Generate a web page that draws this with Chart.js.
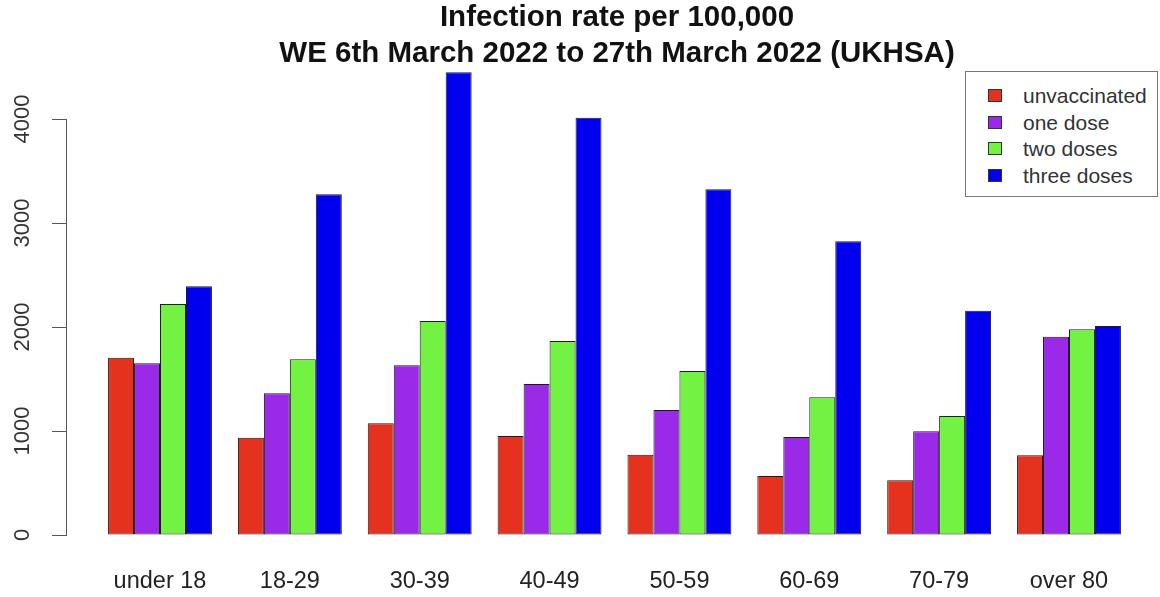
<!DOCTYPE html>
<html>
<head>
<meta charset="utf-8">
<script src="https://cdn.jsdelivr.net/npm/chart.js@4.4.1/dist/chart.umd.min.js"></script>
<style>
  html, body { margin: 0; padding: 0; background: #ffffff; }
  #wrap { position: relative; width: 1160px; height: 597px; overflow: hidden; background: #ffffff; }
  #c { position: absolute; left: 0; top: 0; }
  #legend {
    position: absolute; left: 965px; top: 71px; width: 193px; height: 126px;
    border: 1px solid #777; background: #fff; box-sizing: border-box;
    font-family: "Liberation Sans", Arial, sans-serif; font-size: 21px; color: #333;
  }
  .item { position: absolute; left: 0; height: 26px; line-height: 26px; white-space: nowrap; }
  .sw { position: absolute; left: 22px; top: 6px; width: 14px; height: 13px; border: 1px solid #333; box-sizing: border-box; }
  .lab { position: absolute; left: 57px; top: 0; }
</style>
</head>
<body>
<div id="wrap">
  <canvas id="c" width="1160" height="597"></canvas>
  <div id="legend"></div>
</div>
<script>
const categories = ['under 18', '18-29', '30-39', '40-49', '50-59', '60-69', '70-79', 'over 80'];
const seriesNames = ['unvaccinated', 'one dose', 'two doses', 'three doses'];
const unvaccinated = [1705, 936, 1074, 952, 772, 567, 526, 766];
const oneDose = [1651, 1362, 1632, 1452, 1202, 942, 997, 1907];
const twoDoses = [2221, 1689, 2058, 1865, 1577, 1324, 1145, 1978];
const threeDoses = [2391, 3276, 4449, 4013, 3324, 2824, 2157, 2010];
const yTickValues = [0, 1000, 2000, 3000, 4000];
const titleLines = ['Infection rate per 100,000', 'WE 6th March 2022 to 27th March 2022 (UKHSA)'];
const seriesColors = ['#E5321F', '#9B2AE8', '#74F244', '#0000EE'];

const seriesValues = [unvaccinated, oneDose, twoDoses, threeDoses];

const datasets = seriesValues.map((vals, s) => ({
  label: seriesNames[s],
  data: vals.map((v, i) => ({ x: i, y: v })),
  backgroundColor: seriesColors[s],
  borderColor: '#1c1c1c',
  borderWidth: 1,
  borderSkipped: false,
  categoryPercentage: 0.8,
  barPercentage: 1.0
}));

// HTML legend (real text)
const legendEl = document.getElementById('legend');
seriesNames.forEach((name, s) => {
  const it = document.createElement('div');
  it.className = 'item';
  it.style.top = (11 + s * 26.5) + 'px';
  const sw = document.createElement('div');
  sw.className = 'sw';
  sw.style.background = seriesColors[s];
  const lb = document.createElement('div');
  lb.className = 'lab';
  lb.textContent = name;
  it.appendChild(sw); it.appendChild(lb);
  legendEl.appendChild(it);
});

const axisLinePlugin = {
  id: 'axisLine',
  afterDraw(chart) {
    const y = chart.scales.y;
    const ctx = chart.ctx;
    const x = Math.round(y.right) - 0.5;
    ctx.save();
    ctx.strokeStyle = '#555';
    ctx.lineWidth = 1;
    ctx.beginPath();
    ctx.moveTo(x, Math.round(y.getPixelForValue(yTickValues[0])) + 0.5);
    ctx.lineTo(x, Math.round(y.getPixelForValue(yTickValues[yTickValues.length - 1])) + 0.5);
    ctx.stroke();
    ctx.restore();
  }
};

new Chart(document.getElementById('c'), {
  type: 'bar',
  data: { datasets },
  plugins: [axisLinePlugin],
  options: {
    responsive: false,
    animation: false,
    devicePixelRatio: 1,
    layout: { padding: { left: 0, right: -74, top: 0, bottom: 0 } },
    plugins: {
      legend: { display: false },
      tooltip: { enabled: false },
      title: {
        display: true,
        text: titleLines,
        color: '#111',
        font: { family: 'Liberation Sans', size: 29.5, weight: 'bold', lineHeight: 36 / 29.5 },
        padding: { top: 0, bottom: 0 }
      }
    },
    scales: {
      x: {
        type: 'linear',
        offset: false,
        min: -0.7162,
        max: 7.7008,
        grid: { display: false },
        border: { display: false },
        afterBuildTicks: s => { s.ticks = categories.map((_, i) => ({ value: i })); },
        afterFit: s => { s.height = 62; },
        ticks: {
          autoSkip: false,
          maxRotation: 0,
          padding: 24,
          color: '#222',
          font: { family: 'Liberation Sans', size: 23.5 },
          callback: (v) => categories[v] !== undefined ? categories[v] : ''
        }
      },
      y: {
        type: 'linear',
        min: 0,
        max: 4452,
        grid: { display: true, drawOnChartArea: false, drawTicks: true, tickLength: 15, color: '#555', lineWidth: 1 },
        border: { display: false },
        afterBuildTicks: s => { s.ticks = yTickValues.map(v => ({ value: v })); },
        afterFit: s => { s.width = 67; },
        ticks: {
          minRotation: 90,
          maxRotation: 90,
          crossAlign: 'center',
          padding: 5,
          color: '#333',
          font: { family: 'Liberation Sans', size: 22 },
          callback: (v) => String(v)
        }
      }
    }
  }
});
</script>
</body>
</html>
